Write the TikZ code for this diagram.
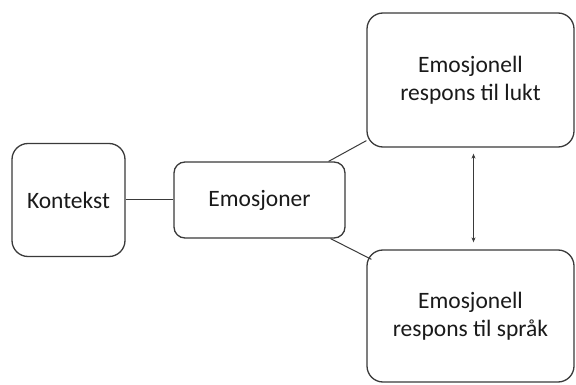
\documentclass[tikz,border=0pt]{standalone}
\usepackage{fontspec}
\setmainfont{Carlito}
\usetikzlibrary{calc,arrows.meta}
\definecolor{ln}{HTML}{3A3A3A}
\definecolor{tx}{HTML}{1A1A1A}
\begin{document}
\begin{tikzpicture}[x=1pt,y=-1pt,
  box/.style={draw=ln,line width=1.3pt,rounded corners=16pt,fill=white,text=tx,align=center,
    font=\fontsize{23.5}{28}\selectfont,inner sep=0pt},
  conn/.style={draw=ln,line width=1pt}]
\useasboundingbox (0,0) rectangle (576,385);
\node[box,minimum width=113pt,minimum height=113pt] (kon) at (68.5,200) {Kontekst};
\node[box,rounded corners=11pt,minimum width=171pt,minimum height=76pt] (emo) at (259.5,200) {Emosjoner};
\node[box,minimum width=207pt,minimum height=134pt] (lukt) at (470.5,80) {Emosjonell\\respons til lukt};
\node[box,minimum width=207pt,minimum height=132pt] (sprak) at (470.5,316) {Emosjonell\\respons til språk};
\coordinate (e1) at ($(emo.north east)+(-17pt,0pt)$);
\coordinate (l1) at ($(lukt.south west)+(0pt,7pt)$);
\coordinate (e2) at ($(emo.south east)+(-15pt,0pt)$);
\coordinate (s1) at ($(sprak.north west)+(5pt,-10pt)$);
\draw[conn] (kon.east) -- (emo.west);
\draw[conn] (e1) -- (l1);
\draw[conn] (e2) -- (s1);
\coordinate (a1) at ($(lukt.south)+(3pt,-6pt)$);
\coordinate (a2) at ($(sprak.north)+(3pt,7pt)$);
\draw[draw=ln,line width=0.8pt,{Stealth[length=5pt,width=4pt]}-{Stealth[length=5pt,width=4pt]}] (a1) -- (a2);
\end{tikzpicture}
\end{document}
